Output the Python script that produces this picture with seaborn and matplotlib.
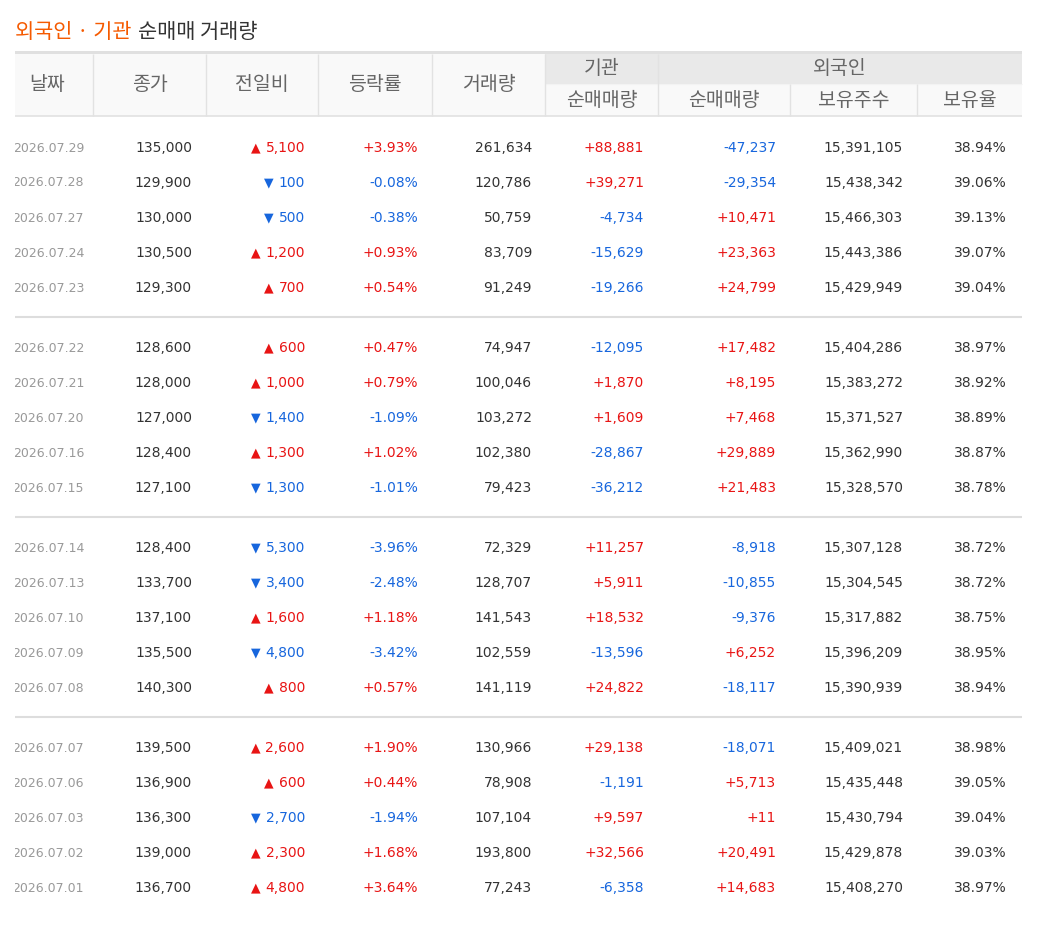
import matplotlib
matplotlib.use("Agg")
import matplotlib.pyplot as plt
from matplotlib.patches import Rectangle
import seaborn as sns

# ---------------- data ----------------
dates = ["2026.07.29", "2026.07.28", "2026.07.27", "2026.07.24", "2026.07.23",
         "2026.07.22", "2026.07.21", "2026.07.20", "2026.07.16", "2026.07.15",
         "2026.07.14", "2026.07.13", "2026.07.10", "2026.07.09", "2026.07.08",
         "2026.07.07", "2026.07.06", "2026.07.03", "2026.07.02", "2026.07.01"]
close = [135000, 129900, 130000, 130500, 129300,
         128600, 128000, 127000, 128400, 127100,
         128400, 133700, 137100, 135500, 140300,
         139500, 136900, 136300, 139000, 136700]
change = [5100, -100, -500, 1200, 700,
          600, 1000, -1400, 1300, -1300,
          -5300, -3400, 1600, -4800, 800,
          2600, 600, -2700, 2300, 4800]
rate = [3.93, -0.08, -0.38, 0.93, 0.54,
        0.47, 0.79, -1.09, 1.02, -1.01,
        -3.96, -2.48, 1.18, -3.42, 0.57,
        1.90, 0.44, -1.94, 1.68, 3.64]
volume = [261634, 120786, 50759, 83709, 91249,
          74947, 100046, 103272, 102380, 79423,
          72329, 128707, 141543, 102559, 141119,
          130966, 78908, 107104, 193800, 77243]
inst_net = [88881, 39271, -4734, -15629, -19266,
            -12095, 1870, 1609, -28867, -36212,
            11257, 5911, 18532, -13596, 24822,
            29138, -1191, 9597, 32566, -6358]
foreign_net = [-47237, -29354, 10471, 23363, 24799,
               17482, 8195, 7468, 29889, 21483,
               -8918, -10855, -9376, 6252, -18117,
               -18071, 5713, 11, 20491, 14683]
holdings = [15391105, 15438342, 15466303, 15443386, 15429949,
            15404286, 15383272, 15371527, 15362990, 15328570,
            15307128, 15304545, 15317882, 15396209, 15390939,
            15409021, 15435448, 15430794, 15429878, 15408270]
hold_ratio = [38.94, 39.06, 39.13, 39.07, 39.04,
              38.97, 38.92, 38.89, 38.87, 38.78,
              38.72, 38.72, 38.75, 38.95, 38.94,
              38.98, 39.05, 39.04, 39.03, 38.97]

title_accent = "외국인 · 기관"
title_rest = "순매매 거래량"
main_headers = ["날짜", "종가", "전일비", "등락률", "거래량"]
group_headers = ["기관", "외국인"]
sub_headers = ["순매매량", "순매매량", "보유주수", "보유율"]

# ---------------- style ----------------
sns.set_theme(style="white")
KR = ["Noto Sans CJK KR", "DejaVu Sans"]
NUM = ["DejaVu Sans"]
RED = "#e81414"
BLUE = "#1766dd"
DARK = "#333333"
GREY = "#999999"
HEAD = "#666666"
LINE = "#e2e2e2"
ORANGE = "#f55a00"
HSIZE = 14

W, H = 1041, 930
fig = plt.figure(figsize=(W / 100, H / 100), dpi=100)
ax = fig.add_axes([0, 0, 1, 1])
ax.set_xlim(0, W)
ax.set_ylim(H, 0)
ax.axis("off")

edges = [15, 93, 206, 318, 432, 545, 658, 790, 917, 1022]
left, right = edges[0], edges[-1]
pads = [9, 14, 13, 14, 13, 14, 14, 14, 15]
xr = [edges[i + 1] - pads[i] for i in range(9)]

clip = Rectangle((left, 0), right - left, H, transform=ax.transData,
                 facecolor="none", edgecolor="none")

# title
t1 = ax.text(left, 32, title_accent, color=ORANGE, fontsize=15, family=KR,
             va="center", ha="left")
ax.annotate(title_rest, xy=(1, 0.5), xycoords=t1, xytext=(5, 0),
            textcoords="offset points", color=DARK, fontsize=15, family=KR,
            va="center", ha="left")

# header backgrounds
y_top, y_mid, y_bot = 54, 84, 116
ax.add_patch(Rectangle((left, y_top), edges[5] - left, y_bot - y_top,
                       facecolor="#f9f9f9", edgecolor="none"))
ax.add_patch(Rectangle((edges[5], y_top), right - edges[5], y_mid - y_top,
                       facecolor="#e9e9e9", edgecolor="none"))
ax.add_patch(Rectangle((edges[5], y_mid), right - edges[5], y_bot - y_mid,
                       facecolor="#f9f9f9", edgecolor="none"))
ax.add_patch(Rectangle((left, 51), right - left, 3,
                       facecolor="#e0e0e0", edgecolor="none"))
ax.hlines(y_bot, left, right, color=LINE, lw=1.2)
ax.hlines(y_mid, edges[5], right, color="#f3f3f3", lw=0.8)
ax.vlines(edges[1:6], y_top, y_bot, color=LINE, lw=1.0)
ax.vlines(edges[6], y_top, y_bot, color=LINE, lw=1.0)
ax.vlines(edges[7:9], y_mid, y_bot, color=LINE, lw=1.0)

# header text
for i, h in enumerate(main_headers):
    ax.text((edges[i] + edges[i + 1]) / 2 + (-7 if i == 0 else 0), 85, h,
            color=HEAD, fontsize=HSIZE, family=KR, ha="center", va="center")
ax.text((edges[5] + edges[6]) / 2, 68, group_headers[0], color=HEAD,
        fontsize=HSIZE, family=KR, ha="center", va="center")
ax.text((edges[6] + edges[9]) / 2, 68, group_headers[1], color=HEAD,
        fontsize=HSIZE, family=KR, ha="center", va="center")
for j, h in enumerate(sub_headers):
    ax.text((edges[5 + j] + edges[6 + j]) / 2, 100, h, color=HEAD,
            fontsize=HSIZE, family=KR, ha="center", va="center")


def signed(v):
    return f"+{v:,}" if v > 0 else f"{v:,}"


def col(v):
    return RED if v > 0 else (BLUE if v < 0 else DARK)


# body rows
for k in range(len(dates)):
    g, i = divmod(k, 5)
    y = 148 + g * 200 + i * 35
    td = ax.text(xr[0], y, dates[k], color=GREY, fontsize=9, family=NUM,
                 ha="right", va="center", clip_on=True)
    td.set_clip_path(clip)
    ax.text(xr[1], y, f"{close[k]:,}", color=DARK, fontsize=10, family=NUM,
            ha="right", va="center")
    c = change[k]
    tc = ax.text(xr[2], y, f"{abs(c):,}", color=col(c), fontsize=10,
                 family=NUM, ha="right", va="center")
    ax.annotate("▲" if c > 0 else "▼", xy=(0, 0.5), xycoords=tc,
                xytext=(-3.5, 0), textcoords="offset points", color=col(c),
                fontsize=9, family=NUM, ha="right", va="center")
    r = rate[k]
    ax.text(xr[3], y, (f"+{r:.2f}%" if r > 0 else f"{r:.2f}%"), color=col(r),
            fontsize=10, family=NUM, ha="right", va="center")
    ax.text(xr[4], y, f"{volume[k]:,}", color=DARK, fontsize=10, family=NUM,
            ha="right", va="center")
    ax.text(xr[5], y, signed(inst_net[k]), color=col(inst_net[k]), fontsize=10,
            family=NUM, ha="right", va="center")
    ax.text(xr[6], y, signed(foreign_net[k]), color=col(foreign_net[k]),
            fontsize=10, family=NUM, ha="right", va="center")
    ax.text(xr[7], y, f"{holdings[k]:,}", color=DARK, fontsize=10, family=NUM,
            ha="right", va="center")
    ax.text(xr[8], y, f"{hold_ratio[k]:.2f}%", color=DARK, fontsize=10,
            family=NUM, ha="right", va="center")

# group separators
for g in range(1, 4):
    ax.hlines(148 + g * 200 - 31, left, right, color="#dddddd", lw=1.5)

fig.savefig("out.png", dpi=100, facecolor="white")
